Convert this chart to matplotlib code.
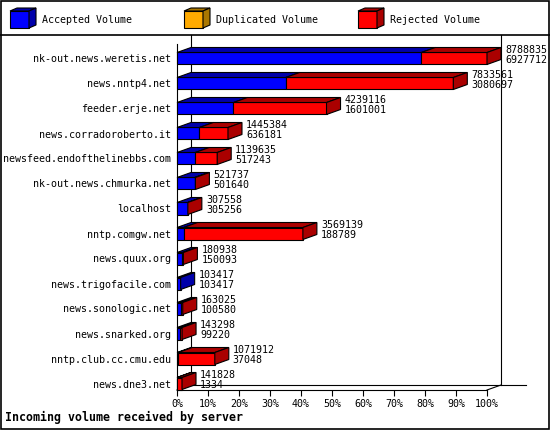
import matplotlib
matplotlib.use('Agg')
import matplotlib.pyplot as plt
from matplotlib.patches import Polygon, Rectangle

# incoming volume per server: first number = total offered, second = accepted
servers = ['nk-out.news.weretis.net', 'news.nntp4.net', 'feeder.erje.net',
           'news.corradoroberto.it', 'newsfeed.endofthelinebbs.com',
           'nk-out.news.chmurka.net', 'localhost', 'nntp.comgw.net',
           'news.quux.org', 'news.trigofacile.com', 'news.sonologic.net',
           'news.snarked.org', 'nntp.club.cc.cmu.edu', 'news.dne3.net']
total = [8788835, 7833561, 4239116, 1445384, 1139635, 521737, 307558,
         3569139, 180938, 103417, 163025, 143298, 1071912, 141828]
accepted = [6927712, 3080697, 1601001, 636181, 517243, 501640, 305256,
            188789, 150093, 103417, 100580, 99220, 37048, 1334]
legend_labels = ['Accepted Volume', 'Duplicated Volume', 'Rejected Volume']
pct_ticks = list(range(0, 101, 10))

BLUE, DBLUE = '#0000ff', '#0000aa'
ORANGE, DORANGE = '#ffaa00', '#aa7700'
RED, DRED = '#ff0000', '#aa0000'

W, H = 550, 430
plt.rcParams['font.family'] = 'DejaVu Sans Mono'
fig = plt.figure(figsize=(W / 100, H / 100), dpi=100)


def cube(ax, x0, x1, ytop, ybot, dx, dy, front, dark, side=True, z=2):
    # y grows downwards on both axes, so "up" means ytop - dy
    kw = dict(ec='k', lw=0.8, joinstyle='miter', zorder=z, clip_on=False)
    ax.add_patch(Polygon([(x0, ytop), (x1, ytop), (x1, ybot), (x0, ybot)], fc=front, **kw))
    ax.add_patch(Polygon([(x0, ytop), (x0 + dx, ytop - dy), (x1 + dx, ytop - dy), (x1, ytop)],
                         fc=dark, **kw))
    if side:
        ax.add_patch(Polygon([(x1, ytop), (x1 + dx, ytop - dy), (x1 + dx, ybot - dy), (x1, ybot)],
                             fc=dark, **kw))


# frame + legend, in pixel units
bg = fig.add_axes([0, 0, 1, 1])
bg.set_xlim(0, W)
bg.set_ylim(H, 0)
bg.axis('off')
bg.add_patch(Rectangle((0.5, 0.5), W - 1.5, H - 1.5, fill=False, ec='k', lw=1.2))
bg.plot([0, W], [35, 35], c='k', lw=1.2)
leg_x = [10, 184, 358]
leg_cols = [(BLUE, DBLUE), (ORANGE, DORANGE), (RED, DRED)]
for lx, (fc, dc), lab in zip(leg_x, leg_cols, legend_labels):
    cube(bg, lx, lx + 19, 11, 28, 7, 3, fc, dc)
    bg.text(lx + 32, 20, lab, fontsize=7.2, va='center', ha='left')

# main chart
ax = fig.add_axes([177 / W, 40 / H, 310 / W, 346 / H])
ax.set_xlim(0, 100)
ax.set_ylim(13.26, -0.58)
dx = 14 / 310 * 100
dy = 5 / 25
half = 0.24

vmax = max(total)
for i in range(len(servers)):
    acc = accepted[i] / vmax * 100
    tot = total[i] / vmax * 100
    y0, y1 = i - half, i + half
    cube(ax, 0, acc, y0, y1, dx, dy, BLUE, DBLUE, side=(tot <= acc), z=3)
    if tot > acc:
        cube(ax, acc, tot, y0, y1, dx, dy, RED, DRED, z=3)
    ax.annotate('%d\n%d' % (total[i], accepted[i]), xy=(tot + dx, i - 0.13),
                xytext=(4, 0), textcoords='offset pixels', va='center', ha='left',
                fontsize=7.2, linespacing=0.95, annotation_clip=False, zorder=4)

# back wall of the 3d frame
yb = 13.26
wall_top = -0.94
lk = dict(c='k', lw=0.8, clip_on=False, zorder=1)
ax.plot([dx, dx], [wall_top, yb - dy], **lk)
ax.plot([100 + dx, 100 + dx], [wall_top, yb - dy], **lk)
ax.plot([dx, 100 + dx + 8], [yb - dy, yb - dy], **lk)
ax.plot([0, dx], [yb, yb - dy], **lk)
ax.plot([100, 100 + dx], [yb, yb - dy], **lk)

for s in ['top', 'right']:
    ax.spines[s].set_visible(False)
for s in ['left', 'bottom']:
    ax.spines[s].set_linewidth(0.8)
ax.patch.set_alpha(0)
ax.set_xticks(pct_ticks, ['%d%%' % p for p in pct_ticks])
ax.set_yticks(range(len(servers)), servers)
ax.tick_params(axis='x', length=4, width=0.8, pad=2.5, labelsize=7.2)
ax.tick_params(axis='y', length=0, pad=4.3, labelsize=7.2)

fig.text(5 / W, 1 - 417 / H, 'Incoming volume received by server', fontsize=8.4,
         weight='bold', va='center', ha='left')

fig.savefig('out.png', dpi=100)
